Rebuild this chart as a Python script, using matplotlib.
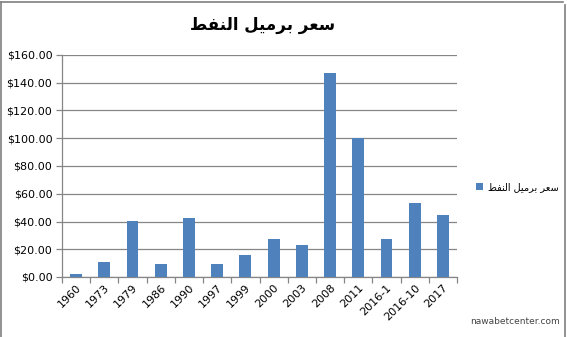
import matplotlib
matplotlib.use("Agg")
import matplotlib.pyplot as plt
from matplotlib.lines import Line2D
import numpy as np

categories = ["1960", "1973", "1979", "1986", "1990", "1997", "1999", "2000",
              "2003", "2008", "2011", "2016-1", "2016-10", "2017"]
prices = [1.9, 10.8, 40.3, 9.4, 42.4, 9.5, 15.9, 27.4, 23.0, 147.0, 100.2, 27.4, 53.3, 44.7]
y_ticks = [0, 20, 40, 60, 80, 100, 120, 140, 160]

# "سعر برميل النفط" pre-shaped (presentation forms, visual order)
title_text = "\uFEC2\uFED4\uFEE8\uFEDF\uFE8D \uFEDE\uFEF4\uFEE3\uFEAE\uFE91 \uFEAE\uFECC\uFEB3"
series_name = title_text

W, H = 567, 337
fig = plt.figure(figsize=(W / 100, H / 100), dpi=100)
fig.patch.set_facecolor("white")
ax = fig.add_axes([62 / W, 1 - 277 / H, (457 - 62) / W, (277 - 55) / H])

x = np.arange(len(categories))
bar_color = "#4F81BD"
ax.bar(x, prices, width=0.42, color=bar_color, label=series_name, zorder=3)

ax.set_xlim(-0.5, len(categories) - 0.5)
ax.set_ylim(0, 160)
ax.set_yticks(y_ticks)
ax.set_yticklabels([f"${v:.2f}" for v in y_ticks], fontsize=8.0, color="#000000")
ax.yaxis.grid(True, color="#868686", linewidth=0.9, zorder=0)
ax.set_axisbelow(True)

ax.set_xticks(x)
ax.set_xticklabels(categories, rotation=45, ha="right", rotation_mode="anchor",
                   fontsize=8.0)
ax.tick_params(axis="x", length=0, pad=4)
ax.set_xticks(np.arange(-0.5, len(categories), 1.0), minor=True)
ax.tick_params(axis="x", which="minor", length=4, color="#868686", width=0.9)
ax.tick_params(axis="y", length=4, color="#868686", width=0.9, pad=3)

for s in ["top", "right"]:
    ax.spines[s].set_visible(False)
for s in ["left", "bottom"]:
    ax.spines[s].set_color("#868686")
    ax.spines[s].set_linewidth(0.9)

fig.text(263 / W, 1 - 25 / H, title_text, ha="center", va="center",
         fontsize=12, fontweight="bold", family="DejaVu Sans")

leg = fig.legend(loc="center left", bbox_to_anchor=(476 / W, 1 - 187 / H),
                 frameon=False, fontsize=7.0, handlelength=0.75, handleheight=0.75,
                 handletextpad=0.45, borderaxespad=0, borderpad=0)

fig.text(560 / W, 1 - 322 / H, "nawabetcenter.com", ha="right", va="center",
         fontsize=6.5, color="#444444", family="DejaVu Sans")

# chart frame
frame_color = "#7f7f7f"
fig.add_artist(Line2D([1 / W, 1 / W], [0.0, 1 - 2 / H], color=frame_color, lw=1.2,
                      transform=fig.transFigure))
fig.add_artist(Line2D([1 / W, 563 / W], [1 - 2 / H, 1 - 2 / H], color=frame_color, lw=1.2,
                      transform=fig.transFigure))
fig.add_artist(Line2D([565 / W, 565 / W], [0.0, 1 - 5 / H], color=frame_color, lw=1.2,
                      transform=fig.transFigure))

fig.savefig("out.png", dpi=100)
